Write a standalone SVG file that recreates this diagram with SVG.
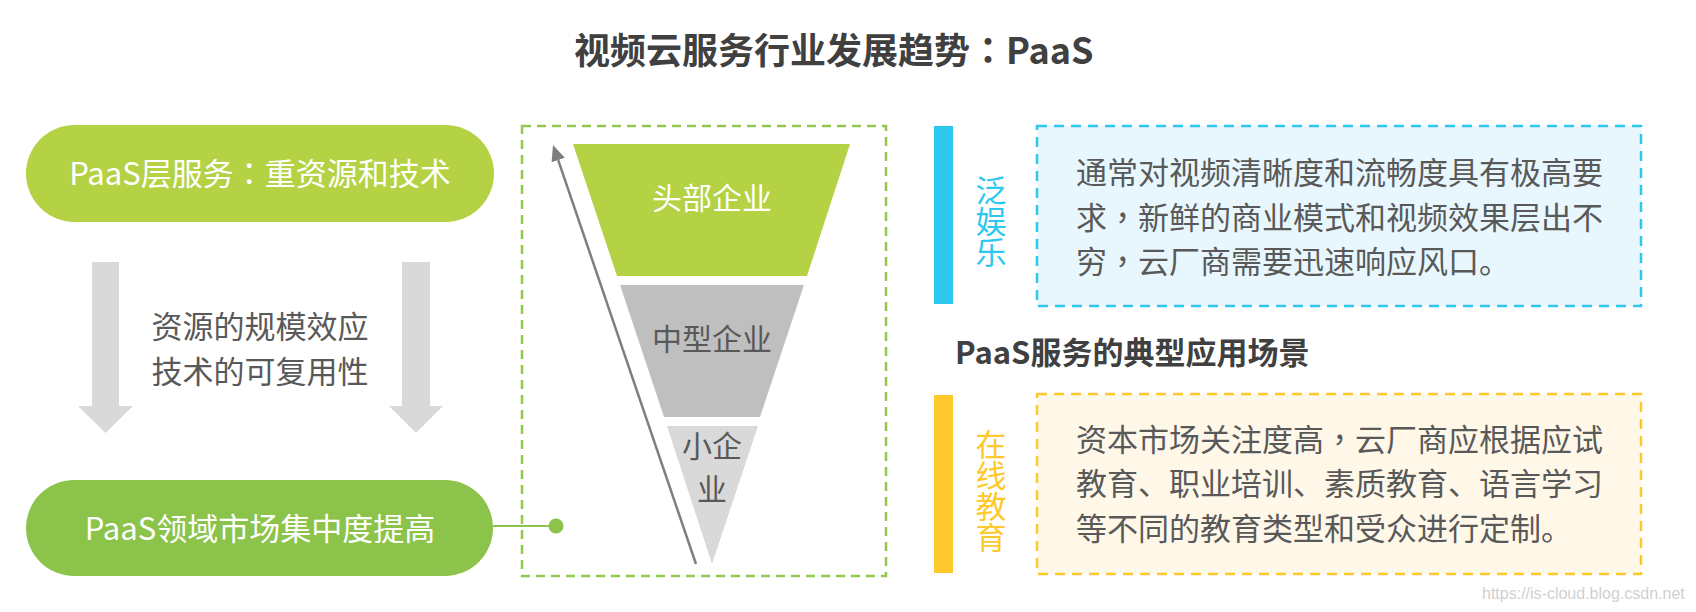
<svg xmlns="http://www.w3.org/2000/svg" width="1696" height="612" viewBox="0 0 1696 612">
<style>
text{font-family:"Noto Sans CJK SC","Noto Sans",sans-serif}
.pc{font-family:"Noto Sans CJK TC","Noto Sans CJK SC",sans-serif}
.t-title{font-size:36px;font-weight:bold;fill:#404040}
.t-sub{font-size:31px;font-weight:bold;fill:#404040}
.t-white{font-size:31px;fill:#ffffff}
.t-gray{font-size:31px;fill:#595959}
.t-body{font-size:31px;fill:#595959}
.t-funnel{font-size:30px}
.t-vert{font-size:31px;writing-mode:vertical-rl}
.t-vblue{fill:#2ec7ef}
.t-vyel{fill:#fdc92c}
.pill1{fill:#b4d244}
.pill2{fill:#8cc34b}
.darrow{fill:#d9d9d9}
.gbox{fill:none;stroke:#92c84f;stroke-width:2.5;stroke-dasharray:9 6}
.bbox{fill:#e8f7fd;stroke:#2ec7ef;stroke-width:2.5;stroke-dasharray:10 7}
.ybox{fill:#fff8e9;stroke:#fdc92c;stroke-width:2.5;stroke-dasharray:10 7}
</style>
<defs>
<marker id="ah" markerWidth="16" markerHeight="14" refX="0" refY="7" orient="auto" markerUnits="userSpaceOnUse">
<path d="M0,0 L16,7 L0,14 z" fill="#7f7f7f"/>
</marker>
</defs>
<rect width="1696" height="612" fill="#ffffff"/>

<text id="title" class="t-title" x="574" y="64">视频云服务行业发展趋势<tspan class="pc">：</tspan>PaaS</text>

<g id="node-paas-layer">
<rect class="pill1" x="26" y="125" width="468" height="97" rx="48.5"/>
<text class="t-white" x="260" y="185" text-anchor="middle">PaaS层服务<tspan class="pc">：</tspan>重资源和技术</text>
</g>

<g id="node-effect">
<polygon class="darrow" points="92,262 119,262 119,406 133,406 105.5,433 78,406 92,406"/>
<polygon class="darrow" points="402,262 430,262 430,406 443,406 416,433 389,406 402,406"/>
<text class="t-gray" x="260" y="338" text-anchor="middle">资源的规模效应</text>
<text class="t-gray" x="260" y="383" text-anchor="middle">技术的可复用性</text>
</g>

<g id="node-concentration">
<rect class="pill2" x="26" y="480" width="467" height="96" rx="48"/>
<text class="t-white" x="260" y="540" text-anchor="middle">PaaS领域市场集中度提高</text>
</g>

<g id="node-funnel">
<rect class="gbox" x="522" y="126" width="364" height="450"/>
<polygon points="573,144 850,144 807,276 617,276" fill="#b4d244"/>
<text class="t-funnel" x="712" y="209" text-anchor="middle" fill="#ffffff">头部企业</text>
<polygon points="620,285 804,285 760,417 664,417" fill="#bfbfbf"/>
<text class="t-funnel" x="712" y="350" text-anchor="middle" fill="#595959">中型企业</text>
<polygon points="667,426 758,426 712,564" fill="#d9d9d9"/>
<text class="t-funnel" x="712" y="457" text-anchor="middle" fill="#595959">小企</text>
<text class="t-funnel" x="712" y="500" text-anchor="middle" fill="#595959">业</text>
</g>

<g id="connectors">
<line x1="493" y1="526" x2="556" y2="526" stroke="#8cc34b" stroke-width="2"/>
<circle cx="556" cy="526" r="7.5" fill="#8cc34b"/>
<line x1="696" y1="564" x2="558.2" y2="160.1" stroke="#7f7f7f" stroke-width="2.5" marker-end="url(#ah)"/>
</g>

<text id="scenes-title" class="t-sub" x="955" y="364">PaaS服务的典型应用场景</text>

<g id="node-entertainment">
<rect x="934" y="126" width="19" height="178" fill="#2ec7ef"/>
<text class="t-vert t-vblue" x="991" y="175">泛娱乐</text>
<rect class="bbox" x="1037" y="126" width="604" height="180"/>
<text class="t-body" x="1076" y="184">通常对视频清晰度和流畅度具有极高要</text>
<text class="t-body" x="1076" y="229">求<tspan class="pc">，</tspan>新鲜的商业模式和视频效果层出不</text>
<text class="t-body" x="1076" y="273">穷<tspan class="pc">，</tspan>云厂商需要迅速响应风口。</text>
</g>

<g id="node-education">
<rect x="934" y="395" width="19" height="178" fill="#fdc92c"/>
<text class="t-vert t-vyel" x="991" y="429">在线教育</text>
<rect class="ybox" x="1037" y="394" width="604" height="180"/>
<text class="t-body" x="1076" y="451">资本市场关注度高<tspan class="pc">，</tspan>云厂商应根据应试</text>
<text class="t-body" x="1076" y="495">教育、职业培训、素质教育、语言学习</text>
<text class="t-body" x="1076" y="540">等不同的教育类型和受众进行定制。</text>
</g>

<text id="watermark" x="1482" y="599" style="font-family:'Liberation Sans',Arial,sans-serif" font-size="16" fill="#d0d0d0">https://is-cloud.blog.csdn.net</text>
</svg>
